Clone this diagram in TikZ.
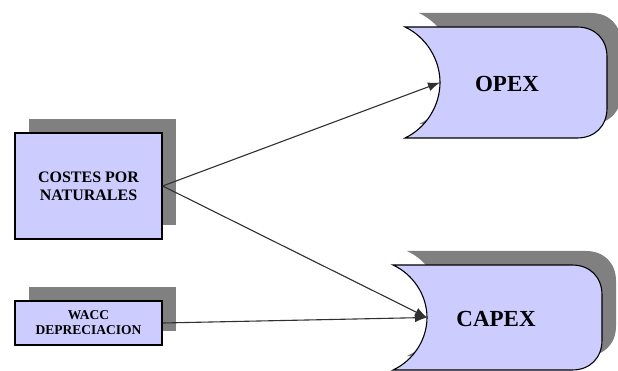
\documentclass[tikz,border=0pt]{standalone}
\usepackage{fontspec}
\setmainfont{Liberation Serif}
\usetikzlibrary{arrows.meta,shadows}

\definecolor{boxfill}{HTML}{CCCCFF}
\definecolor{shade}{HTML}{808080}
\definecolor{wire}{HTML}{303030}

\tikzset{
  flatshadow/.style={drop shadow={shadow xshift=14pt, shadow yshift=14pt,
      opacity=1, fill=shade}},
  procbox/.style={rectangle, fill=boxfill, draw=black, line width=1.3pt,
      flatshadow, align=center, inner sep=0pt, font=\bfseries},
  store/.style={fill=boxfill, draw=black, line width=1.1pt, flatshadow},
  storelabel/.style={font=\bfseries\fontsize{23}{26}\selectfont},
  link/.style={draw=wire, line width=1.1pt, -{Latex[length=12pt,width=9pt]}},
}

% concave-left, rounded-right storage shape
% #1 left x, #2 top y, #3 right x, #4 bottom y, #5 depth of the concave side
\newcommand{\storeshape}[5]{%
  \path[store] ({#1},{#2}) -- ({#3-30},{#2})
    .. controls ({#3-12},{#2}) and ({#3},{#2+12}) .. ({#3},{#2+30})
    -- ({#3},{#4-30})
    .. controls ({#3},{#4-12}) and ({#3-12},{#4}) .. ({#3-30},{#4})
    -- ({#1},{#4})
    .. controls ({#1+#5*0.6},{#4-(#4-#2)*0.09}) and ({#1+#5},{(#2+#4)/2+(#4-#2)*0.21}) .. ({#1+#5},{(#2+#4)/2})
    .. controls ({#1+#5},{(#2+#4)/2-(#4-#2)*0.21}) and ({#1+#5*0.6},{#2+(#4-#2)*0.09}) .. ({#1},{#2})
    -- cycle;}

\begin{document}
\begin{tikzpicture}[x=1pt,y=-1pt]
  \useasboundingbox (0,0) rectangle (618,371);

  % left-hand input boxes
  \node[procbox, minimum width=147pt, minimum height=106pt,
        font=\bfseries\fontsize{16}{18}\selectfont]
        (costes) at (88.5,186) {COSTES POR\\NATURALES};
  \node[procbox, minimum width=147pt, minimum height=44pt,
        font=\bfseries\fontsize{13.5}{15}\selectfont]
        (wacc) at (88.5,323) {WACC\\DEPRECIACION};

  % right-hand storage shapes
  \storeshape{405}{27}{607}{138}{35}
  \node[storelabel] (opex) at (507,84) {OPEX};
  \coordinate (opexin) at (440,82.5);

  \storeshape{393}{265}{602}{370}{34}
  \node[storelabel] (capex) at (496,319) {CAPEX};
  \coordinate (capexin) at (427,317.5);

  % connectors
  \draw[link] (costes.east) -- (opexin);
  \draw[link] (costes.east) -- (capexin);
  \draw[link] (wacc.east) -- (capexin);
\end{tikzpicture}
\end{document}
